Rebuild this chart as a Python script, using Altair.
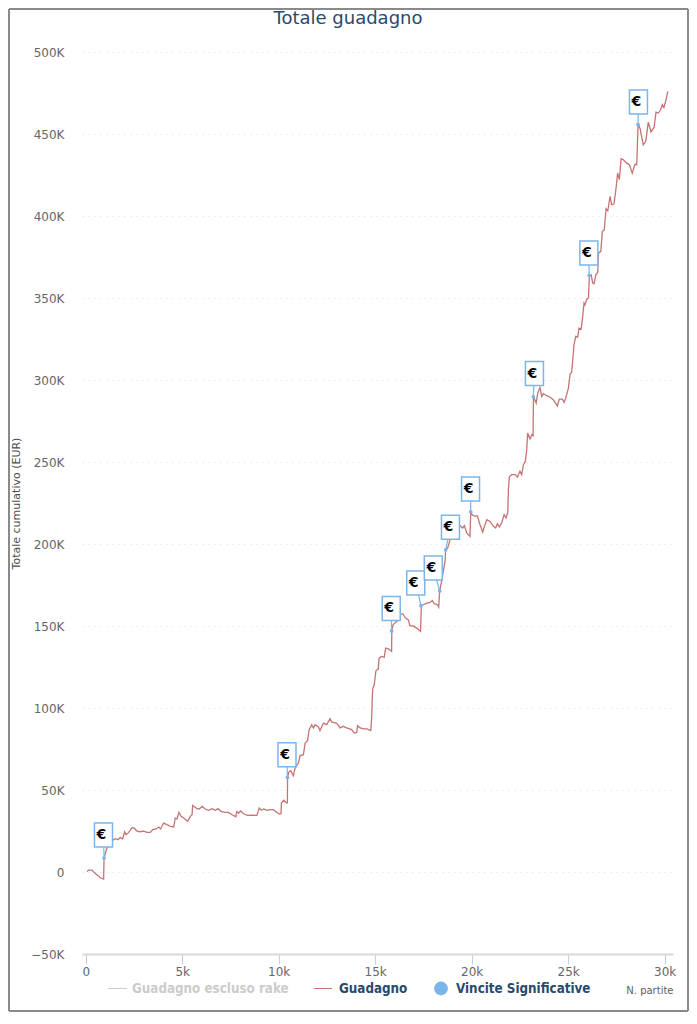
import altair as alt
import pandas as pd

games_k = [0.07,0.15,0.33,0.43,0.59,0.76,0.93,0.95,1.02,1.10,1.19,1.43,1.53,1.67,1.79,1.91,2.02,2.09,2.23,2.40,2.50,2.66,2.83,3.00,3.18,3.35,3.47,3.64,3.78,3.88,4.04,4.21,4.39,4.56,4.64,4.73,4.83,4.94,5.08,5.28,5.42,5.51,5.54,5.77,5.89,6.03,6.20,6.37,6.55,6.72,6.85,7.03,7.23,7.40,7.58,7.78,7.82,7.92,8.03,8.18,8.39,8.61,8.87,8.99,9.10,9.22,9.39,9.56,9.73,9.91,10.03,10.12,10.14,10.26,10.40,10.45,10.46,10.52,10.62,10.76,10.85,11.02,11.11,11.28,11.37,11.50,11.57,11.71,11.80,11.88,12.06,12.14,12.32,12.49,12.66,12.75,13.00,13.18,13.35,13.52,13.78,13.92,14.04,14.09,14.22,14.39,14.56,14.77,14.82,14.85,14.88,14.95,15.04,15.16,15.20,15.33,15.47,15.54,15.71,15.85,15.86,15.92,16.20,16.28,16.42,16.58,16.72,16.80,16.97,17.15,17.35,17.39,17.49,17.67,17.84,17.96,18.06,18.23,18.29,18.34,18.44,18.51,18.62,18.65,18.75,18.88,19.40,19.53,19.62,19.74,19.91,19.95,20.02,20.17,20.29,20.43,20.57,20.69,20.78,20.95,21.12,21.24,21.33,21.43,21.55,21.68,21.78,21.87,21.90,21.95,22.07,22.25,22.37,22.50,22.59,22.68,22.78,22.85,22.90,23.02,23.11,23.18,23.20,23.34,23.42,23.54,23.63,23.71,23.89,24.06,24.23,24.44,24.54,24.70,24.79,24.87,25.01,25.10,25.18,25.30,25.39,25.49,25.56,25.67,25.74,25.82,25.87,25.96,26.05,26.10,26.19,26.27,26.34,26.43,26.53,26.57,26.69,26.77,26.87,26.96,27.05,27.17,27.25,27.37,27.46,27.56,27.65,27.74,27.86,28.03,28.17,28.32,28.46,28.55,28.62,28.72,28.89,29.02,29.15,29.29,29.45,29.55,29.67,29.79,29.88,29.96,30.07,30.16]
profit_k = [0.2,1.2,1.2,-0.2,-1.8,-3.5,-4.3,8.6,11.6,14.6,15.7,19.7,20.4,19.7,21.2,20.2,24.6,22.8,24.2,27.1,26.9,25.0,24.6,25.0,24.2,24.2,25.9,26.3,27.5,26.3,29.9,28.9,27.9,27.5,33.0,32.4,36.4,34.0,33.0,31.0,34.0,35.0,40.7,38.7,38.5,40.1,38.5,37.7,38.7,37.7,38.7,36.9,36.4,36.4,35.0,33.8,36.9,36.0,37.3,35.6,34.6,34.8,34.6,39.1,37.7,38.5,37.7,38.1,38.1,36.4,35.4,35.6,42.2,43.8,42.2,42.2,57.8,60.9,61.9,58.9,63.5,66.6,71.1,71.7,78.8,80.4,86.6,90.0,88.0,90.0,88.6,86.4,91.0,90.0,93.7,91.5,91.0,88.0,89.0,88.0,87.0,84.9,85.3,89.4,88.0,87.4,87.4,86.4,95.0,107.3,112.4,114.4,123.1,124.0,130.7,131.7,131.3,136.8,136.2,134.8,147.3,151.0,154.0,157.2,157.8,155.1,154.0,150.4,150.4,149.0,147.0,162.7,163.3,164.3,164.7,165.9,163.9,163.3,161.9,171.8,177.5,182.6,189.8,196.8,197.9,203.0,211.6,210.2,211.6,207.1,205.0,220.0,218.3,217.3,217.7,212.2,207.7,212.2,215.3,214.2,211.2,210.2,212.8,210.8,213.2,218.3,216.3,219.7,233.6,241.3,242.8,242.8,241.3,244.8,242.8,248.9,250.9,258.0,268.2,264.6,267.2,266.6,290.3,286.5,292.6,296.0,290.5,292.2,291.0,290.1,288.5,284.8,288.9,288.9,286.9,289.5,295.6,304.4,305.2,322.1,327.2,326.8,332.3,331.7,338.4,347.6,346.6,350.0,350.6,364.5,364.9,359.8,359.4,364.9,366.3,378.1,379.2,391.4,392.4,405.2,404.0,412.8,407.7,408.1,415.8,427.0,423.0,435.8,435.2,433.1,432.1,427.0,432.5,432.1,456.7,454.5,444.3,446.4,458.2,452.1,454.9,464.3,463.7,465.7,468.8,467.1,471.8,476.9]

win_games_k = [0.95,10.45,15.85,17.37,18.34,18.65,19.95,23.19,26.09,28.62]
win_profit_k = [8.6,57.8,147.3,162.7,171.7,196.8,220.0,290.3,364.5,456.7]
flag_games_k = [0.92,10.43,15.83,17.10,18.01,18.90,19.94,23.25,26.07,28.64]
flag_profit_k = [22.6,71.6,161.0,176.6,185.8,210.7,234.0,304.5,378.2,470.5]

y_ticks = list(range(-50000, 500001, 50000))
x_ticks = [0, 5000, 10000, 15000, 20000, 25000, 30000]

# the readings above were taken with a slightly too coarse EUR-per-pixel factor
READING_FIX = 0.998

TITLE = "#274b6d"
LINE = "#c47474"
BLUE = "#7cb5ec"

series = pd.DataFrame({"n": [v * 1000 for v in games_k],
                       "p": [v * 1000 * READING_FIX for v in profit_k],
                       "i": range(len(games_k))})
wins = pd.DataFrame({"n": [v * 1000 for v in win_games_k],
                     "p": [v * 1000 * READING_FIX for v in win_profit_k],
                     "fn": [v * 1000 for v in flag_games_k],
                     "fp": [v * 1000 * READING_FIX for v in flag_profit_k],
                     "t": ["€"] * len(win_games_k)})

xs = alt.Scale(domain=[-192, 30430], nice=False, zero=False)
ys = alt.Scale(domain=[-50000, 500000], nice=False, zero=False)

x_axis = alt.Axis(values=x_ticks, title="N. partite", titleAnchor="end", titleFontSize=10,
                  titleFontWeight="normal", titleColor="#606060", titleFont="DejaVu Sans",
                  titlePadding=8, labelExpr="datum.value == 0 ? '0' : (datum.value / 1000) + 'k'",
                  labelFont="DejaVu Sans", labelFontSize=12, labelColor="#666666", labelPadding=2,
                  tickColor="#C0D0E0", tickSize=10, tickWidth=1, domainColor="#d8d8d8", domainWidth=2,
                  grid=False, labelOverlap=False)
y_axis = alt.Axis(values=y_ticks, title="Totale cumulativo (EUR)", titleFontSize=11,
                  titleFontWeight="normal", titleColor="#4d4d4d", titleFont="DejaVu Sans",
                  titlePadding=9,
                  labelExpr="datum.value == 0 ? '0' : replace(format(datum.value / 1000, 'd'), '-', '−') + 'K'",
                  labelFont="DejaVu Sans", labelFontSize=12, labelColor="#666666", labelPadding=18,
                  tickSize=0, domain=False, grid=True, gridColor="#dddddd", gridDash=[1, 5], gridWidth=1,
                  labelOverlap=False)

line = alt.Chart(series).mark_line(color=LINE, strokeWidth=1.3, interpolate="linear").encode(
    x=alt.X("n:Q", scale=xs, axis=x_axis),
    y=alt.Y("p:Q", scale=ys, axis=y_axis),
    order="i:Q",
)
stems = alt.Chart(wins).mark_rule(color=BLUE, strokeWidth=1.2).encode(
    x=alt.X("n:Q", scale=xs), y=alt.Y("p:Q", scale=ys), x2="fn:Q", y2="fp:Q")
dots = alt.Chart(wins).mark_point(filled=True, color=BLUE, opacity=1, size=14).encode(
    x=alt.X("n:Q", scale=xs), y=alt.Y("p:Q", scale=ys))
boxes = alt.Chart(wins).mark_point(shape="M-1,-1.333H1V1.333H-1Z", size=324, fill="white",
                                   stroke=BLUE, strokeWidth=1.5, opacity=1, filled=False, fillOpacity=1).encode(
    x=alt.X("fn:Q", scale=xs), y=alt.Y("fp:Q", scale=ys))
euros = alt.Chart(wins).mark_text(font="DejaVu Sans", fontWeight="bold", fontSize=14, color="black",
                                  dx=-2, dy=0, baseline="middle").encode(
    x=alt.X("fn:Q", scale=xs), y=alt.Y("fp:Q", scale=ys), text="t:N")

LEG_Y = 936.5
LEG_FONT = "DejaVu Sans Condensed"
one = pd.DataFrame({"k": [0]})

def leg_text(t, px, color):
    return alt.Chart(pd.DataFrame({"t": [t]})).mark_text(
        align="left", baseline="middle", font=LEG_FONT, fontWeight="bold", fontSize=13.3, color=color
    ).encode(x=alt.value(px), y=alt.value(LEG_Y), text="t:N")

def seg(a, b, yy, color, w=1):
    return alt.Chart(one).mark_rule(color=color, strokeWidth=w).encode(
        x=alt.value(a), x2=alt.value(b), y=alt.value(yy))

legend = [
    seg(26, 45, LEG_Y, "#cccccc"),
    leg_text("Guadagno escluso rake", 50, "#cccccc"),
    seg(232, 250, LEG_Y, LINE),
    leg_text("Guadagno", 257, TITLE),
    alt.Chart(one).mark_point(filled=True, color=BLUE, opacity=1, size=190).encode(
        x=alt.value(359), y=alt.value(LEG_Y)),
    leg_text("Vincite Significative", 374, TITLE),
]

title = alt.Chart(pd.DataFrame({"t": ["Totale guadagno"]})).mark_text(
    align="center", baseline="middle", font="DejaVu Sans", fontSize=18, color=TITLE
).encode(x=alt.value(266), y=alt.value(-33), text="t:N")

# frame along the edge of the drawing surface: page margin keeps it 8px in
L, R, T, B = -73, 606, -43, 959
FRAME = "#8a8a8a"
frame = [
    seg(L, R, T, FRAME, 2),
    seg(L, R, B, FRAME, 2),
    alt.Chart(one).mark_rule(color=FRAME, strokeWidth=2).encode(x=alt.value(L), y=alt.value(T), y2=alt.value(B)),
    alt.Chart(one).mark_rule(color=FRAME, strokeWidth=2).encode(x=alt.value(R), y=alt.value(T), y2=alt.value(B)),
]

chart = alt.layer(line, stems, dots, boxes, euros, title, *legend, *frame).properties(
    width=591, height=902,
    autosize=alt.AutoSizeParams(type="none"),
    padding={"left": 74, "top": 44, "right": 16, "bottom": 58},
    background="white",
).configure_view(stroke=None)

chart.save("out.html", embed_options={"renderer": "svg", "actions": False})
